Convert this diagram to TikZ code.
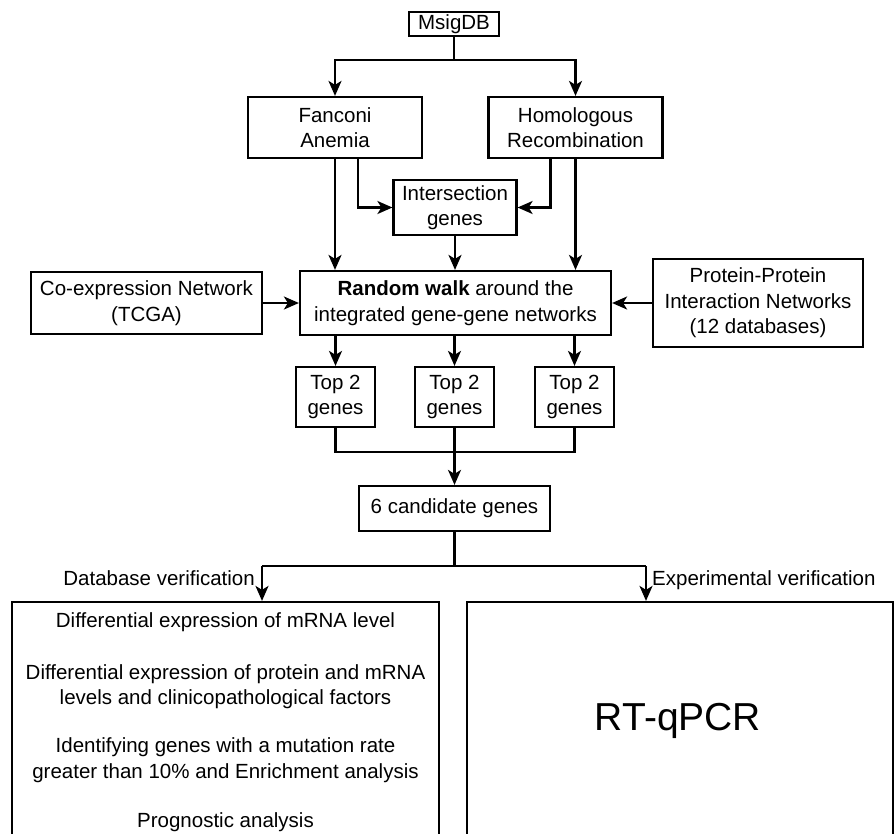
\documentclass[tikz,border=0pt]{standalone}
\usepackage{fontspec}
\setmainfont{Liberation Sans}
\usetikzlibrary{arrows.meta}
\tikzset{
  box/.style={draw, line width=2.2pt, inner sep=0pt, align=center, rectangle,
    font=\fontsize{20.5}{25.5}\selectfont},
  arr/.style={line width=2.2pt, -{Stealth[length=15pt,width=13pt,inset=4pt]}},
  ln/.style={line width=2.2pt},
  txt/.style={inner sep=0pt, font=\fontsize{20.5}{25.5}\selectfont}
}
\begin{document}
\begin{tikzpicture}[x=1pt,y=-1pt]
\useasboundingbox (0,0) rectangle (896,833);
\clip (0,0) rectangle (896,833);
\fill[white] (0,0) rectangle (896,833);
% boxes
\node[box, minimum width=90pt, minimum height=24pt] (msig) at (454,24) {MsigDB};
\node[box, minimum width=174pt, minimum height=61pt] (fa) at (335,127.5) {Fanconi\\Anemia};
\node[box, minimum width=174pt, minimum height=61pt] (hr) at (575.5,127.5) {Homologous\\Recombination};
\node[box, minimum width=123pt, minimum height=55pt] (inter) at (455,207.5) {Intersection\\genes};
\node[box, minimum width=231pt, minimum height=62pt] (coex) at (146.5,303) {Co-expression Network\\(TCGA)};
\node[box, minimum width=311pt, minimum height=64pt] (rw) at (455.5,303) {\textbf{Random walk} around the\\integrated gene-gene networks};
\node[box, minimum width=210pt, minimum height=88pt] (ppi) at (758,303) {Protein-Protein\\Interaction Networks\\(12 databases)};
\node[box, minimum width=79pt, minimum height=60pt] (t1) at (335.5,397) {Top 2\\genes};
\node[box, minimum width=79pt, minimum height=60pt] (t2) at (454.5,397) {Top 2\\genes};
\node[box, minimum width=79pt, minimum height=60pt] (t3) at (574.5,397) {Top 2\\genes};
\node[box, minimum width=191pt, minimum height=45pt] (cand) at (454.5,508.5) {6 candidate genes};
\node[box, minimum width=427pt, minimum height=260pt] (dbox) at (225.5,732) {};
\node[box, minimum width=426pt, minimum height=260pt] (ebox) at (680,732) {};
% texts in the verification boxes
\node[txt, anchor=base] (d1) at (225.5,627) {Differential expression of mRNA level};
\node[txt, anchor=base] (d2) at (225.5,679) {Differential expression of protein and mRNA};
\node[txt, anchor=base] (d3) at (225.5,704) {levels and clinicopathological factors};
\node[txt, anchor=base] (d4) at (225.5,752) {Identifying genes with a mutation rate};
\node[txt, anchor=base] (d5) at (225.5,778) {greater than 10\% and Enrichment analysis};
\node[txt, anchor=base] (d6) at (225.5,827) {Prognostic analysis};
\node[inner sep=0pt, anchor=base, font=\fontsize{39}{45}\selectfont] (rt) at (678,730) {RT-qPCR};
% labels
\node[txt, anchor=base east] (ldb) at (255,585) {Database verification};
\node[txt, anchor=base west] (lex) at (652,585) {Experimental verification};
% connectors
\coordinate (s1) at (454,60);
\draw[ln] (msig.south) -- (s1);
\draw[arr] (s1) -| (fa.north);
\draw[arr] (s1) -| (hr.north);
\draw[arr] (fa.south) -- (fa.south |- rw.north);
\draw[arr] (hr.south) -- (hr.south |- rw.north);
\draw[arr] ([xshift=23pt]fa.south) |- (inter.west);
\draw[arr] ([xshift=-25pt]hr.south) |- (inter.east);
\draw[arr] (inter.south) -- (inter.south |- rw.north);
\draw[arr] (coex.east) -- (rw.west);
\draw[arr] (ppi.west) -- (rw.east);
\draw[arr] (t1.north |- rw.south) -- (t1.north);
\draw[arr] (t2.north |- rw.south) -- (t2.north);
\draw[arr] (t3.north |- rw.south) -- (t3.north);
\coordinate (m1) at (454.5,452);
\draw[ln] (t1.south) |- (m1);
\draw[ln] (t3.south) |- (m1);
\draw[ln] (t2.south) -- (m1);
\draw[arr] (m1) -- (cand.north);
\coordinate (m2) at (454.5,566);
\coordinate (bl) at (262,566);
\coordinate (br) at (646,566);
\draw[ln] (cand.south) -- (m2);
\draw[ln] (bl) -- (br);
\draw[arr] (bl) -- (bl |- dbox.north);
\draw[arr] (br) -- (br |- ebox.north);
\end{tikzpicture}
\end{document}
